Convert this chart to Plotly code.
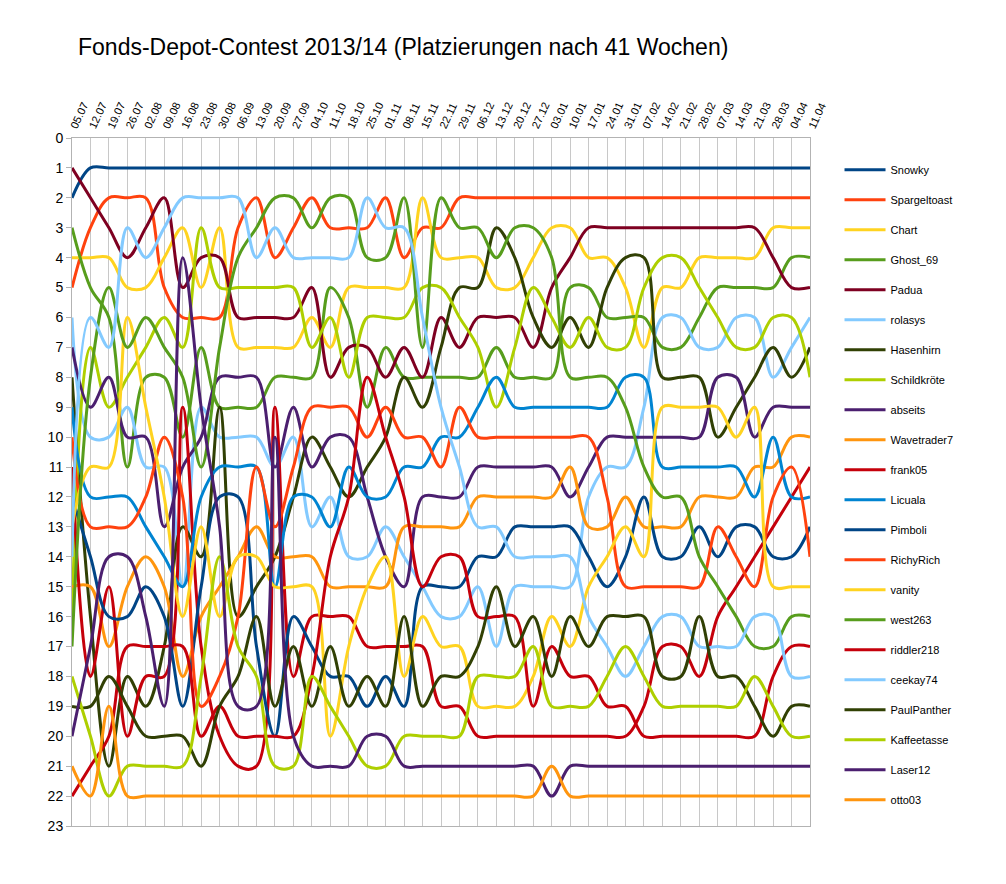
import plotly.graph_objects as go

weeks = ["05.07","12.07","19.07","26.07","02.08","09.08","16.08","23.08","30.08","06.09",
         "13.09","20.09","27.09","04.10","11.10","18.10","25.10","01.11","08.11","15.11",
         "22.11","29.11","06.12","13.12","20.12","27.12","03.01","10.01","17.01","24.01",
         "31.01","07.02","14.02","21.02","28.02","07.03","14.03","21.03","28.03","04.04","11.04"]

names = ["Snowky","Spargeltoast","Chart","Ghost_69","Padua","rolasys","Hasenhirn","Schildkröte",
         "abseits","Wavetrader7","frank05","Licuala","Pimboli","RichyRich","vanity","west263",
         "riddler218","ceekay74","PaulPanther","Kaffeetasse","Laser12","otto03"]

colors = ["#004586","#ff420e","#ffd320","#579d1c","#7e0021","#83caff","#314004","#aecf00",
          "#4b1f6f","#ff950e","#c5000b","#0084d1","#004586","#ff420e","#ffd320","#579d1c",
          "#c5000b","#83caff","#314004","#aecf00","#4b1f6f","#ff950e"]

snowky       = [2,1,1,1,1,1,1,1,1,1, 1,1,1,1,1,1,1,1,1,1, 1,1,1,1,1,1,1,1,1,1, 1,1,1,1,1,1,1,1,1,1,1]
spargeltoast = [5,3,2,2,2,5,6,6,6,3, 2,4,3,2,3,3,3,2,4,3, 3,2,2,2,2,2,2,2,2,2, 2,2,2,2,2,2,2,2,2,2,2]
chart        = [4,4,4,5,5,4,3,5,3,7, 7,7,7,6,7,5,5,5,5,2, 4,4,4,5,5,4,3,3,4,4, 5,7,5,5,4,4,4,4,3,3,3]
ghost_69     = [3,5,6,11,8,8,10,7,9,9, 9,8,8,8,5,6,9,7,8,8, 8,8,8,7,8,8,8,5,5,6, 6,6,7,7,6,5,5,5,5,4,4]
padua        = [1,2,3,4,3,2,5,4,4,6, 6,6,6,5,8,7,7,8,7,8, 6,7,6,6,6,7,5,4,3,3, 3,3,3,3,3,3,3,3,4,5,5]
rolasys      = [6,10,10,9,11,11,15,9,10,10, 10,11,10,13,12,14,14,13,14,15, 16,16,15,17,15,15,15,15,12,11, 11,9,6,6,7,7,6,6,8,7,6]
hasenhirn    = [8,16,21,18,19,17,13,14,9,16, 15,14,12,10,11,12,11,10,8,9, 7,5,5,3,4,6,7,6,7,5, 4,4,8,8,8,10,9,8,7,8,7]
schildkroete = [16,7,9,8,7,6,7,3,5,5, 5,5,5,7,6,8,6,6,6,5, 5,6,7,9,7,5,6,7,6,7, 7,5,4,4,5,6,7,7,6,6,8]
abseits      = [7,9,8,10,10,13,11,10,8,8, 8,11,9,11,10,10,12,14,15,12, 12,12,11,11,11,11,11,12,11,10, 10,10,10,10,10,8,8,10,9,9,9]
wavetrader7  = [15,15,17,15,14,15,18,16,15,14, 13,14,14,14,15,15,15,15,13,13, 13,13,12,12,12,12,12,11,13,13, 12,13,13,13,12,12,12,11,11,10,10]
frank05      = [11,18,15,20,18,18,9,17,20,21, 21,9,18,16,16,16,17,17,17,17, 19,19,20,20,20,20,20,20,20,20, 20,19,17,17,18,16,15,14,13,12,11]
licuala      = [9,12,12,12,13,14,15,12,11,11, 11,15,12,12,13,11,12,12,11,11, 10,10,9,8,9,9,9,9,9,9, 8,8,11,11,11,11,11,12,10,12,12]
pimboli      = [12,14,16,16,15,16,19,15,12,12, 17,20,16,17,18,18,19,18,19,15, 15,15,14,14,13,13,13,13,14,15, 14,12,14,14,13,14,13,13,14,14,13]
richyrich    = [10,13,13,13,12,10,12,19,18,16, 11,13,11,9,9,9,10,9,10,10, 11,9,10,10,10,10,10,10,10,12, 15,15,15,15,15,13,14,15,12,11,14]
vanity       = [13,11,11,6,9,12,16,13,16,14, 14,15,15,15,20,17,15,14,18,16, 17,17,19,19,19,18,16,17,15,14, 13,14,9,9,9,9,10,9,15,15,15]
west263      = [17,8,5,7,6,7,8,11,7,4, 3,2,2,3,2,2,4,4,2,7, 2,3,3,4,3,3,4,8,8,8, 9,11,12,12,14,15,16,17,17,16,16]
riddler218   = [22,21,20,17,17,17,17,20,19,20, 20,20,20,18,14,12,8,10,12,15, 14,14,16,16,16,19,17,18,18,19, 19,20,20,20,20,20,20,20,18,17,17]
ceekay74     = [14,6,7,3,4,3,2,2,2,2, 4,3,4,4,4,4,2,3,3,6, 9,11,13,13,14,14,14,14,16,17, 18,17,16,16,17,17,17,16,16,18,18]
paulpanther  = [19,19,18,19,20,20,20,21,19,18, 16,19,17,19,17,19,18,19,16,19, 18,18,17,15,17,16,18,16,17,16, 16,16,18,18,16,18,18,19,20,19,19]
kaffeetasse  = [18,20,22,21,21,21,21,18,14,17, 18,21,21,18,19,20,21,21,20,20, 20,20,18,18,18,17,19,19,19,18, 17,18,19,19,19,19,19,18,19,20,20]
laser12      = [20,17,14,14,16,19,4,9,13,19, 19,10,20,21,21,21,20,20,21,21, 21,21,21,21,21,21,22,21,21,21, 21,21,21,21,21,21,21,21,21,21,21]
otto03       = [21,22,19,22,22,22,22,22,22,22, 22,22,22,22,22,22,22,22,22,22, 22,22,22,22,22,22,21,22,22,22, 22,22,22,22,22,22,22,22,22,22,22]

series = [snowky, spargeltoast, chart, ghost_69, padua, rolasys, hasenhirn, schildkroete,
          abseits, wavetrader7, frank05, licuala, pimboli, richyrich, vanity, west263,
          riddler218, ceekay74, paulpanther, kaffeetasse, laser12, otto03]

x = list(range(len(weeks)))
fig = go.Figure()
for name, col, vals in zip(names, colors, series):
    fig.add_trace(go.Scatter(
        x=x, y=vals, name=name, mode="lines", legendgroup=name,
        line=dict(color=col, width=3, shape="spline", smoothing=1.0),
        hoverinfo="name+y"))

# the page body adds an 8px margin, so the figure is sized and offset to compensate
W, H = 998, 876
FONT = "Liberation Sans, Arial, sans-serif"
fig.update_layout(
    width=W, height=H,
    paper_bgcolor="white", plot_bgcolor="white",
    margin=dict(l=64, r=196, t=130, b=58, autoexpand=False),
    font=dict(family=FONT, color="#000000"),
    title=dict(text="Fonds-Depot-Contest 2013/14 (Platzierungen nach 41 Wochen)",
               x=70/W, xanchor="left", xref="container",
               y=1-39/H, yanchor="middle", yref="container",
               font=dict(size=23, family=FONT, color="#000000")),
    showlegend=True,
    legend=dict(x=1.04, xanchor="left", y=0.975, yanchor="top",
                font=dict(size=11, family=FONT, color="#000000"),
                tracegroupgap=11, bgcolor="rgba(0,0,0,0)", borderwidth=0,
                itemwidth=41),
    xaxis=dict(side="top", range=[0, 40], tickmode="array", tickvals=x, ticktext=weeks,
               tickangle=-65, tickfont=dict(size=11, family=FONT, color="#000000"),
               showgrid=True, gridcolor="#c8c8c8", gridwidth=1,
               showline=True, linecolor="#b3b3b3", linewidth=1, mirror=True,
               ticks="", zeroline=False, fixedrange=True, automargin=False),
    yaxis=dict(range=[23, 0], tickmode="linear", tick0=0, dtick=1,
               tickfont=dict(size=14, family=FONT, color="#000000"),
               showgrid=False, showline=True, linecolor="#b3b3b3", linewidth=1, mirror=True,
               ticks="outside", ticklen=5, tickcolor="#b3b3b3", zeroline=False,
               fixedrange=True, automargin=False),
)

fig.write_html("out.html")
